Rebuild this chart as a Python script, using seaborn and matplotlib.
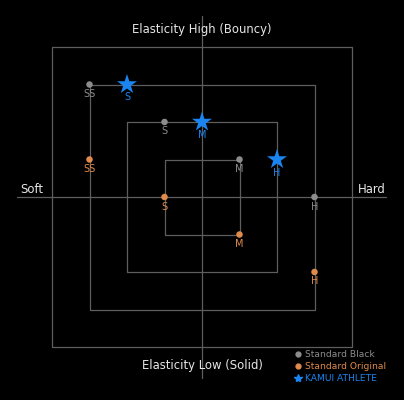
import matplotlib
matplotlib.use("Agg")
import matplotlib.pyplot as plt
import seaborn as sns
import pandas as pd
from matplotlib.lines import Line2D

# concentric square half-sizes (grid units)
square_sizes = [1, 2, 3, 4]

# Standard Black
black_labels = ["SS", "S", "M", "H"]
black_x = [-3, -1, 1, 3]
black_y = [3, 2, 1, 0]

# Standard Original
orig_labels = ["SS", "S", "M", "H"]
orig_x = [-3, -1, 1, 3]
orig_y = [1, 0, -1, -2]

# KAMUI ATHLETE
kamui_labels = ["S", "M", "H"]
kamui_x = [-2, 0, 2]
kamui_y = [3, 2, 1]

series_names = ["Standard Black", "Standard Original", "KAMUI ATHLETE"]
colors = {"Standard Black": "#8c8c8c", "Standard Original": "#e08a4c", "KAMUI ATHLETE": "#1a84f0"}
line_color = "#5e5e5e"

df = pd.concat([
    pd.DataFrame({"x": black_x, "y": black_y, "label": black_labels, "series": series_names[0]}),
    pd.DataFrame({"x": orig_x, "y": orig_y, "label": orig_labels, "series": series_names[1]}),
    pd.DataFrame({"x": kamui_x, "y": kamui_y, "label": kamui_labels, "series": series_names[2]}),
], ignore_index=True)

sns.set_style("dark")
plt.rcParams["font.family"] = ["DejaVu Sans"]

fig = plt.figure(figsize=(4.04, 4.00), dpi=100, facecolor="black")
ax = fig.add_axes([0, 0, 1, 1])
ax.set_facecolor("black")
unit = 37.5
ax.set_xlim(-202 / unit, 202 / unit)
ax.set_ylim(-203 / unit, 197 / unit)
ax.axis("off")

# squares
sq_rows = []
for s in square_sizes:
    for i, (px, py) in enumerate([(-s, s), (s, s), (s, -s), (-s, -s), (-s, s)]):
        sq_rows.append({"x": px, "y": py, "order": i, "size": s})
sq = pd.DataFrame(sq_rows)
sns.lineplot(data=sq, x="x", y="y", units="size", estimator=None, sort=False,
             color=line_color, linewidth=0.9, ax=ax, legend=False)

# cross axes
ax.plot([-185 / unit, 184 / unit], [0, 0], color=line_color, lw=0.9)
ax.plot([0, 0], [-181 / unit, 181 / unit], color=line_color, lw=0.9)

sns.scatterplot(data=df[df.series != "KAMUI ATHLETE"], x="x", y="y", hue="series",
                palette=colors, s=22, linewidth=0, ax=ax, legend=False, zorder=3)
sns.scatterplot(data=df[df.series == "KAMUI ATHLETE"], x="x", y="y", hue="series",
                palette=colors, marker="*", s=230, linewidth=0, ax=ax, legend=False, zorder=3)

for _, r in df.iterrows():
    off = 13 if r.series == "KAMUI ATHLETE" else 9.5
    ax.text(r.x, r.y - off / unit, r.label, color=colors[r.series], fontsize=7,
            ha="center", va="center", zorder=4)

txt = dict(color="#e6e6e6", fontsize=8.4, ha="center", va="center")
ax.text(0, 168 / unit, "Elasticity High (Bouncy)", **txt)
ax.text(0, -168 / unit, "Elasticity Low (Solid)", **txt)
ax.text(-170 / unit, 8 / unit, "Soft", **txt)
ax.text(170 / unit, 8 / unit, "Hard", **txt)

handles = [
    Line2D([], [], marker="o", ls="", color=colors[series_names[0]], markersize=3.5),
    Line2D([], [], marker="o", ls="", color=colors[series_names[1]], markersize=3.5),
    Line2D([], [], marker="*", ls="", color=colors[series_names[2]], markersize=6),
]
leg = ax.legend(handles, series_names, loc="upper left", bbox_to_anchor=(295 / 404, 1 - 350 / 400),
                frameon=False, fontsize=6.6, handlelength=0.6, handletextpad=0.45,
                labelspacing=0.35, borderpad=0, borderaxespad=0,
                labelcolor=[colors[n] for n in series_names])

fig.savefig("out.png", dpi=100, facecolor="black")
